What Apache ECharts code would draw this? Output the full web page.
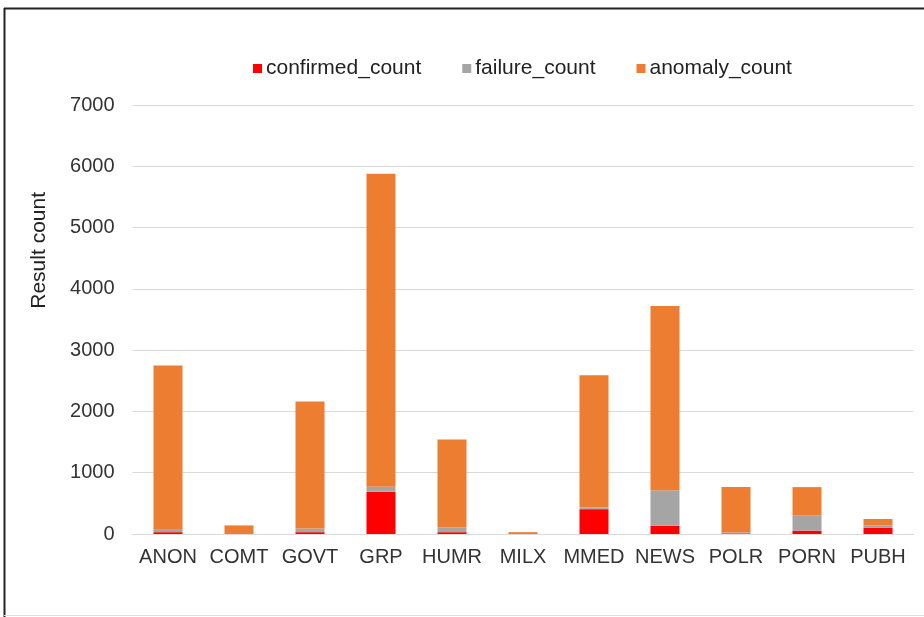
<!DOCTYPE html>
<html>
<head>
<meta charset="utf-8">
<script src="https://cdn.jsdelivr.net/npm/echarts@6/dist/echarts.min.js"></script>
<style>
html,body{margin:0;padding:0;background:#fff;}
#chart{width:924px;height:617px;}
</style>
</head>
<body>
<div id="chart"></div>
<script>
var categories = ['ANON','COMT','GOVT','GRP','HUMR','MILX','MMED','NEWS','POLR','PORN','PUBH'];
var confirmedCount = [30, 0, 30, 690, 30, 0, 405, 135, 10, 55, 100];
var failureCount   = [40, 0, 60, 80, 80, 0, 30, 580, 15, 245, 40];
var anomalyCount   = [2680, 140, 2070, 5110, 1430, 30, 2155, 3005, 740, 465, 105];
var yTicks = [0, 1000, 2000, 3000, 4000, 5000, 6000, 7000];

var chart = echarts.init(document.getElementById('chart'));
var font = 'Liberation Sans, Arial, sans-serif';
chart.setOption({
  animation: false,
  textStyle: {fontFamily: font},
  legend: {
    top: 53,
    left: 248,
    itemWidth: 9,
    itemHeight: 9,
    itemGap: 41,
    icon: 'rect',
    textStyle: {fontSize: 21, color: '#222', fontFamily: font, padding: [0,0,0,-1]},
    data: ['confirmed_count', 'failure_count', 'anomaly_count']
  },
  grid: {left: 132.5, right: 10.5, top: 105, bottom: 83},
  xAxis: {
    type: 'category',
    data: categories,
    axisTick: {show: false},
    axisLine: {lineStyle: {color: '#d9d9d9', width: 1}},
    axisLabel: {fontSize: 20, color: '#333', margin: 13, fontFamily: font, interval: 0, hideOverlap: false}
  },
  yAxis: {
    type: 'value',
    min: yTicks[0],
    max: yTicks[yTicks.length - 1],
    interval: 1000,
    axisLine: {show: false},
    axisTick: {show: false},
    splitLine: {lineStyle: {color: '#d9d9d9', width: 1}},
    axisLabel: {fontSize: 20, color: '#333', margin: 18, fontFamily: font,
      formatter: function (v) { return String(v); }}
  },
  graphic: [
    {type: 'text', left: 29, top: 192, rotation: Math.PI / 2,
     style: {text: 'Result count', fill: '#222', font: '21px ' + font}},
    {type: 'line', shape: {x1: 4, y1: 8.5, x2: 924, y2: 8.5}, style: {stroke: '#222', lineWidth: 2}},
    {type: 'line', shape: {x1: 4.5, y1: 8, x2: 4.5, y2: 617}, style: {stroke: '#222', lineWidth: 2}},
    {type: 'line', shape: {x1: 4, y1: 615.5, x2: 924, y2: 615.5}, style: {stroke: '#e0e0e0', lineWidth: 1}}
  ],
  series: [
    {name: 'confirmed_count', type: 'bar', stack: 't', data: confirmedCount, barWidth: 29, itemStyle: {color: '#FF0000'}},
    {name: 'failure_count', type: 'bar', stack: 't', data: failureCount, barWidth: 29, itemStyle: {color: '#A5A5A5'}},
    {name: 'anomaly_count', type: 'bar', stack: 't', data: anomalyCount, barWidth: 29, itemStyle: {color: '#ED7D31'}}
  ]
});
</script>
</body>
</html>
